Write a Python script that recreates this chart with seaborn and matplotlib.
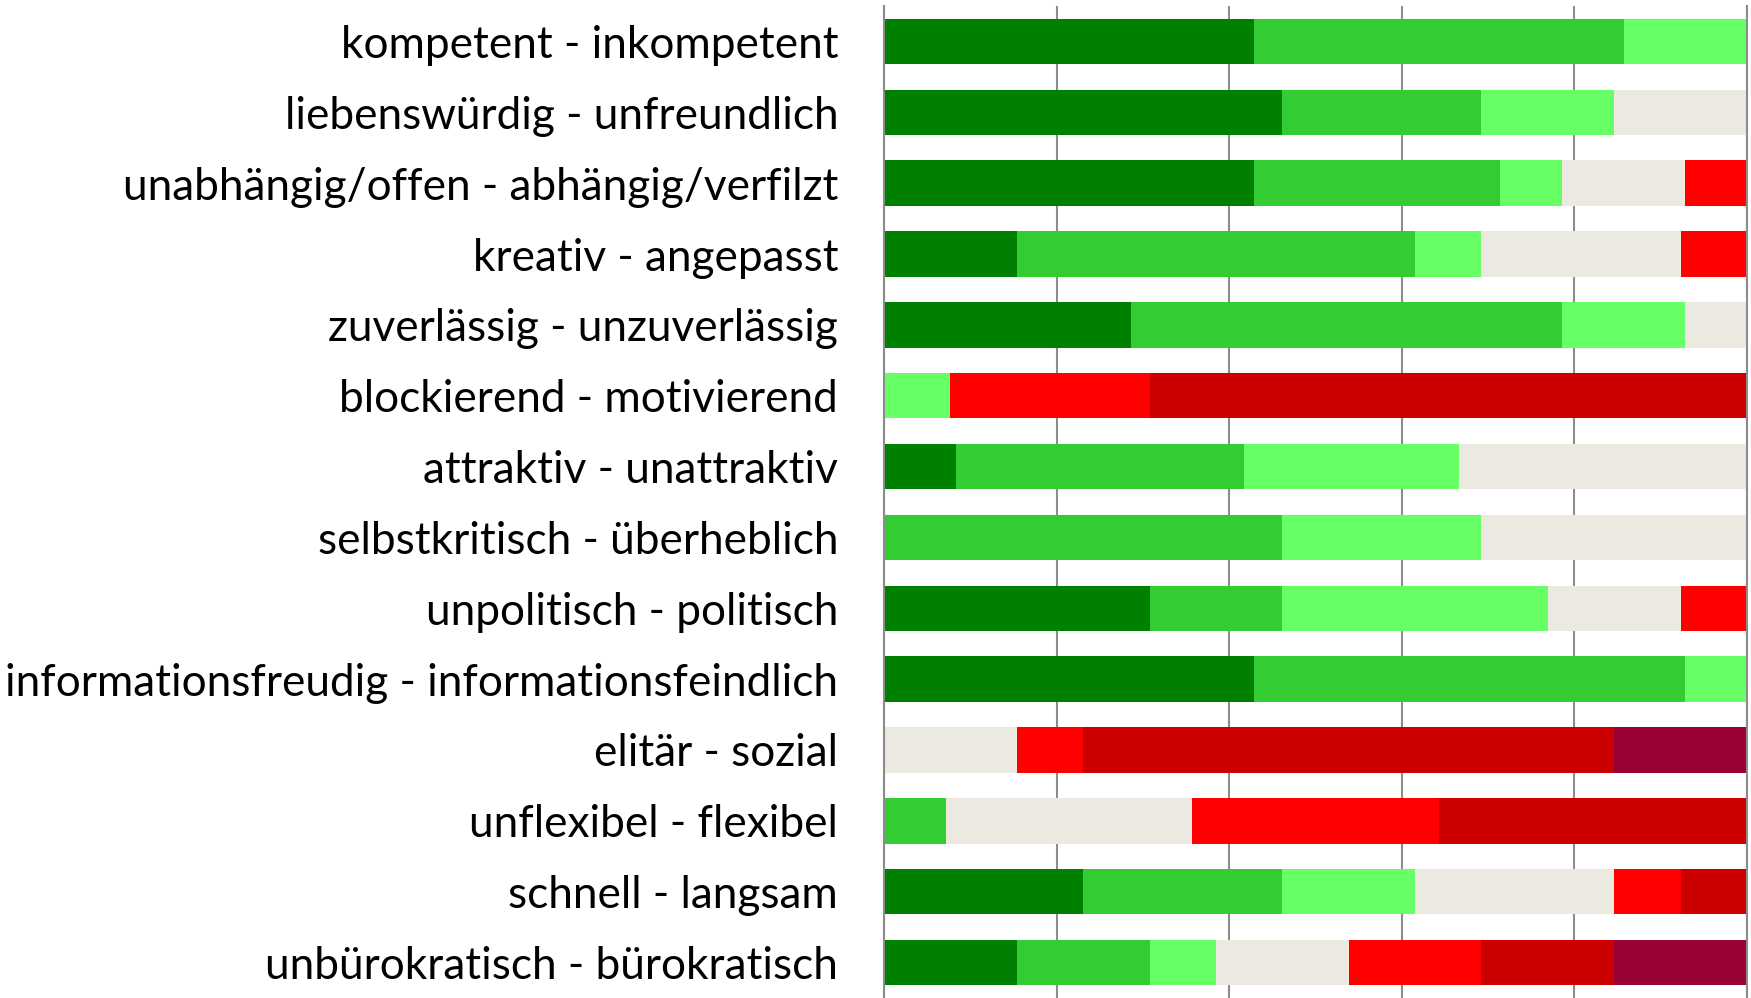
import numpy as np
import pandas as pd
import seaborn as sns
import matplotlib.pyplot as plt

# Polaritaetsprofil - Antworten je Kategorie (Anzahl Nennungen)
labels = [
    "kompetent - inkompetent",
    "liebenswürdig - unfreundlich",
    "unabhängig/offen - abhängig/verfilzt",
    "kreativ - angepasst",
    "zuverlässig - unzuverlässig",
    "blockierend - motivierend",
    "attraktiv - unattraktiv",
    "selbstkritisch - überheblich",
    "unpolitisch - politisch",
    "informationsfreudig - informationsfeindlich",
    "elitär - sozial",
    "unflexibel - flexibel",
    "schnell - langsam",
    "unbürokratisch - bürokratisch",
]

stufe1 = [3, 6, 6, 2, 4, 0, 1, 0, 4, 6, 0, 0, 3, 2]
stufe2 = [3, 3, 4, 6, 7, 0, 4, 6, 2, 7, 0, 1, 3, 2]
stufe3 = [1, 2, 1, 1, 2, 1, 3, 3, 4, 1, 0, 0, 2, 1]
stufe4 = [0, 2, 2, 3, 1, 0, 4, 4, 2, 0, 2, 4, 3, 2]
stufe5 = [0, 0, 1, 1, 0, 3, 0, 0, 1, 0, 1, 4, 1, 2]
stufe6 = [0, 0, 0, 0, 0, 9, 0, 0, 0, 0, 8, 5, 1, 2]
stufe7 = [0, 0, 0, 0, 0, 0, 0, 0, 0, 0, 2, 0, 0, 2]

colors = ["#008000", "#33CC33", "#66FF66", "#ECEAE0", "#FF0000", "#CC0000", "#990033"]

counts = np.array([stufe1, stufe2, stufe3, stufe4, stufe5, stufe6, stufe7], dtype=float)
share = counts / counts.sum(axis=0) * 100
cum = np.cumsum(share, axis=0)

fig = plt.figure(figsize=(17.51, 9.98), dpi=100)
ax = fig.add_axes([884 / 1751, 0.0, (1747 - 884) / 1751, 992 / 998])

# draw from the right so the shorter cumulative bars cover the longer ones
for i in range(len(colors) - 1, -1, -1):
    df = pd.DataFrame({"label": labels, "value": cum[i]})
    sns.barplot(data=df, x="value", y="label", color=colors[i], width=0.64,
                saturation=1, linewidth=0, ax=ax, orient="h")

ax.set_xlim(0, 100)
ax.set_ylim(13.5, -0.5)
ax.set_xticks([0, 20, 40, 60, 80, 100])
ax.set_xticklabels([])
ax.grid(axis="x", color="#8c8c8c", linewidth=1.5)
ax.set_axisbelow(True)
ax.tick_params(axis="both", length=0)
ax.tick_params(axis="y", pad=33, labelsize=31.8)
for lab in ax.get_yticklabels():
    lab.set_fontfamily("Lato")
ax.set_xlabel("")
ax.set_ylabel("")
for s in ["top", "bottom"]:
    ax.spines[s].set_visible(False)
for s in ["left", "right"]:
    ax.spines[s].set_color("#8c8c8c")
    ax.spines[s].set_linewidth(1.5)

fig.savefig("out.png", dpi=100)
